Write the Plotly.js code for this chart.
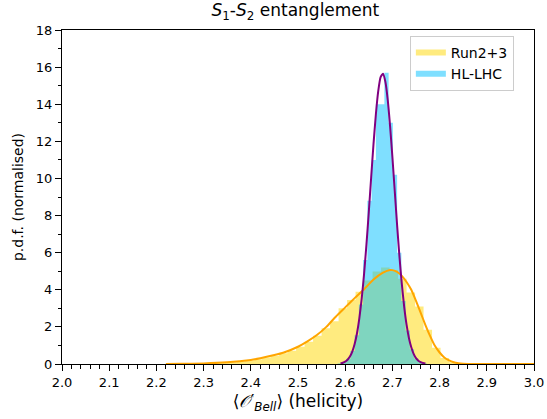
<!DOCTYPE html>
<html>
<head>
<meta charset="utf-8">
<script src="https://cdn.plot.ly/plotly-3.0.1.min.js"></script>
<style>html,body{margin:0;padding:0;background:#fff;}#chart{width:547px;height:419px;}</style>
</head>
<body>
<div id="chart"></div>
<script>
// Run2+3 histogram (bin centres, p.d.f. values)
const run23Centers = [2.235,2.253,2.271,2.289,2.307,2.325,2.343,2.361,2.379,2.397,2.415,2.433,2.451,2.469,2.487,2.505,2.523,2.541,2.559,2.577,2.595,2.613,2.631,2.649,2.667,2.685,2.703,2.721,2.739,2.757,2.775,2.793,2.811,2.829,2.847,2.865];
const run23Values  = [0.01,0.01,0.02,0.03,0.04,0.06,0.08,0.10,0.14,0.19,0.26,0.35,0.45,0.58,0.72,0.93,1.20,1.52,1.92,2.30,3.00,3.45,3.90,4.50,4.98,5.20,5.05,4.60,3.85,3.10,1.85,0.88,0.32,0.09,0.02,0.005];

// HL-LHC histogram
const hllhcCenters = [2.5885,2.5975,2.6065,2.6155,2.6245,2.6335,2.6425,2.6515,2.6605,2.6695,2.6785,2.6875,2.6965,2.7055,2.7145,2.7235,2.7325,2.7415,2.7505,2.7595,2.7685];
const hllhcValues  = [0.03,0.10,0.28,0.70,1.55,3.2,5.6,8.8,11.0,14.0,14.0,15.7,13.0,10.2,6.0,3.4,1.8,0.8,0.3,0.1,0.03];

// Run2+3 fitted curve (orange)
const run23CurveX = [2.22,2.25,2.30,2.35,2.40,2.42,2.45,2.47,2.50,2.52,2.54,2.56,2.58,2.60,2.62,2.64,2.66,2.68,2.695,2.70,2.71,2.72,2.73,2.74,2.75,2.76,2.77,2.78,2.79,2.80,2.81,2.82,2.83,2.84,2.85,2.88,2.92,3.00];
const run23CurveY = [0,0.01,0.03,0.09,0.22,0.31,0.48,0.62,0.93,1.22,1.56,2.0,2.55,3.05,3.55,4.03,4.55,4.92,5.07,5.06,4.97,4.75,4.42,4.00,3.40,2.75,2.10,1.50,0.98,0.62,0.35,0.19,0.09,0.04,0.015,0.002,0,0];

// HL-LHC fitted curve (purple)
const hllhcCurveX = [2.590,2.595,2.600,2.605,2.610,2.615,2.620,2.625,2.630,2.635,2.640,2.645,2.650,2.655,2.660,2.665,2.670,2.675,2.680,2.685,2.690,2.695,2.700,2.705,2.710,2.715,2.720,2.725,2.730,2.735,2.740,2.745,2.750,2.755,2.760,2.765,2.770];
const hllhcCurveY = [0.035,0.069,0.129,0.232,0.40,0.67,1.08,1.66,2.47,3.53,4.86,6.43,8.19,10.05,11.86,13.46,14.71,15.46,15.64,15.22,14.26,12.85,11.15,9.31,7.47,5.77,4.30,3.08,2.12,1.40,0.90,0.55,0.32,0.18,0.10,0.053,0.027];

const seriesNames = ["Run2+3", "HL-LHC"];
const xTickVals = [2.0,2.1,2.2,2.3,2.4,2.5,2.6,2.7,2.8,2.9,3.0];
const xTickText = ["2.0","2.1","2.2","2.3","2.4","2.5","2.6","2.7","2.8","2.9","3.0"];
const yTickVals = [0,2,4,6,8,10,12,14,16,18];

const YBIN = 0.018, BBIN = 0.009;
const FONT = "DejaVu Sans, sans-serif";

// step outline of a histogram from its bin centres
function stepX(centers, w){ const e = centers.map(c => c - w/2); e.push(centers[centers.length-1] + w/2); return e; }
function stepY(vals){ const v = vals.slice(); v.push(vals[vals.length-1]); return v; }

const traces = [
  {type:'scatter', mode:'none', x: stepX(run23Centers, YBIN), y: stepY(run23Values),
   line:{shape:'hv', width:0}, fill:'tozeroy', fillcolor:'rgba(255,215,0,0.5)',
   name: seriesNames[0], hoverinfo:'skip'},
  {type:'scatter', mode:'none', x: stepX(hllhcCenters, BBIN), y: stepY(hllhcValues),
   line:{shape:'hv', width:0}, fill:'tozeroy', fillcolor:'rgba(0,191,255,0.5)',
   name: seriesNames[1], hoverinfo:'skip'},
  {type:'scatter', mode:'lines', x: run23CurveX, y: run23CurveY, line:{color:'#FFA500', width:2, shape:'spline', smoothing:0.5}, showlegend:false},
  {type:'scatter', mode:'lines', x: hllhcCurveX, y: hllhcCurveY, line:{color:'#800080', width:2, shape:'spline', smoothing:0.5}, showlegend:false}
];

const axisCommon = {
  showline:true, linecolor:'#000', linewidth:1, mirror:true,
  ticks:'outside', ticklen:6, tickwidth:1, tickcolor:'#000',
  showgrid:false, zeroline:false,
  tickfont:{family:FONT, size:13, color:'#000'}
};

const layout = {
  width:547, height:419,
  margin:{l:62, r:13, t:30, b:55},
  paper_bgcolor:'#fff', plot_bgcolor:'#fff',
  font:{family:FONT, color:'#000'},
  title:{text:'<i>S</i><sub>1</sub>-<i>S</i><sub>2</sub> entanglement', font:{family:FONT, size:17, color:'#000'}, x:0.54, xanchor:'center', y:0.99, yanchor:'top'},
  xaxis: Object.assign({}, axisCommon, {
    range:[2,3], tickvals:xTickVals, ticktext:xTickText,
    minor:{dtick:0.02, ticks:'outside', ticklen:3.5, tickcolor:'#000', tickwidth:1, showgrid:false},
    title:{text:'⟨<i>𝒪</i>′<sub><i>Bell</i></sub>⟩ (helicity)', font:{family:FONT, size:17, color:'#000'}, standoff:6}
  }),
  yaxis: Object.assign({}, axisCommon, {
    range:[0,18], tickvals:yTickVals,
    minor:{dtick:1, ticks:'outside', ticklen:3.5, tickcolor:'#000', tickwidth:1, showgrid:false},
    title:{text:'p.d.f. (normalised)', font:{family:FONT, size:14, color:'#000'}, standoff:8}
  }),
  legend:{x:0.737, y:0.982, xanchor:'left', yanchor:'top', bgcolor:'rgba(255,255,255,0.9)', bordercolor:'#cccccc', borderwidth:1,
    font:{family:FONT, size:14, color:'#000'}, itemwidth:30, tracegroupgap:2},
  showlegend:true
};

Plotly.newPlot('chart', traces, layout, {displayModeBar:false, staticPlot:true});
</script>
</body>
</html>
